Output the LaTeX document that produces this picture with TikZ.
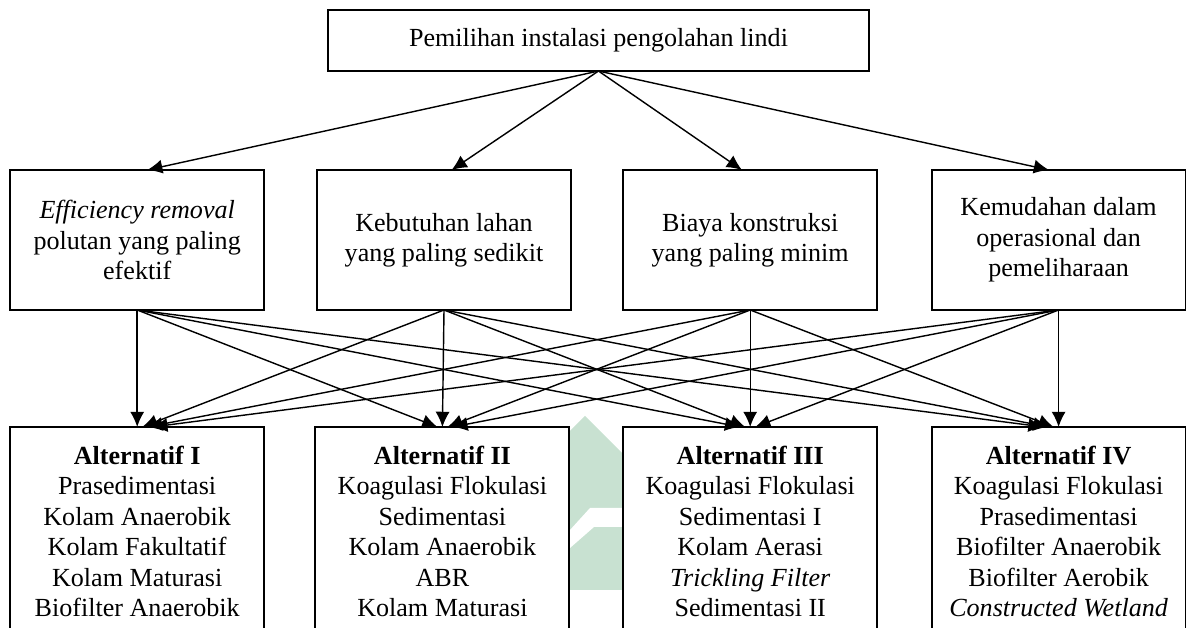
\documentclass[tikz,border=0pt]{standalone}
\usepackage{fontspec}
\setmainfont{Liberation Serif}
\usepackage{xcolor}
\usepackage{tikz}
\usetikzlibrary{positioning, arrows.meta}
\definecolor{wmgreen}{RGB}{200,225,209}

\begin{document}
\begin{tikzpicture}[>={Latex[length=7pt,width=6.5pt]}, x=0.46pt, y=0.46pt,
    box/.style={draw, line width=0.9pt, fill=white, align=center, outer sep=0pt,
        font=\fontsize{12}{14}\selectfont},
    goal/.style={box, minimum width=248.9pt, minimum height=28.1pt},
    crit/.style={box, minimum width=116.8pt, minimum height=64.4pt, inner sep=2pt},
    alt/.style={box, minimum width=116.8pt, anchor=north, inner xsep=2pt, inner ysep=8.7pt, text depth=30pt},
    link/.style={->, line width=0.65pt}]
    \useasboundingbox (0,0) rectangle (1186,628);
    \clip (0,0) rectangle (1186,628);
    % Watermark
    \fill[wmgreen] (540,167) -- (585,212) -- (640,157) -- (640,38) -- (540,38) -- cycle;
    \fill[white] (570,98) -- (590,120) -- (640,120) -- (640,101) -- (594,101) -- (570,80) -- cycle;
    % Goal
    \node[goal] (goal) at (598.5,587.5) {Pemilihan instalasi pengolahan lindi};
    % Criteria
    \node[crit] (c1) at (137.2,388) {\textit{Efficiency removal}\\polutan yang paling\\efektif};
    \node[crit] (c2) at (444,388) {Kebutuhan lahan\\yang paling sedikit};
    \node[crit] (c3) at (750.2,388) {Biaya konstruksi\\yang paling minim};
    \node[crit] (c4) at (1058.6,388) {Kemudahan dalam\\operasional dan\\pemeliharaan};
    % Alternatives
    \node[alt] (a1) at (137.2,201) {\textbf{Alternatif I}\\Prasedimentasi\\Kolam Anaerobik\\Kolam Fakultatif\\Kolam Maturasi\\Biofilter Anaerobik};
    \node[alt] (a2) at (442.4,201) {\textbf{Alternatif II}\\Koagulasi Flokulasi\\Sedimentasi\\Kolam Anaerobik\\ABR\\Kolam Maturasi};
    \node[alt] (a3) at (750.2,201) {\textbf{Alternatif III}\\Koagulasi Flokulasi\\Sedimentasi I\\Kolam Aerasi\\\textit{Trickling Filter}\\Sedimentasi II};
    \node[alt] (a4) at (1058.6,201) {\textbf{Alternatif IV}\\Koagulasi Flokulasi\\Prasedimentasi\\Biofilter Anaerobik\\Biofilter Aerobik\\\textit{Constructed Wetland}};
    % Goal to criteria
    \draw[link] (goal.south) -- ([xshift=4.6pt]c1.north);
    \draw[link] (goal.south) -- ([xshift=3.5pt]c2.north);
    \draw[link] (goal.south) -- ([xshift=-3.8pt]c3.north);
    \draw[link] (goal.south) -- ([xshift=-4.4pt]c4.north);
    % Criteria to alternatives
    \foreach \i in {1,...,4}
        \foreach \j in {1,...,4}
            \draw[link] (c\i.south) -- ([xshift={(\i-\j)*2.3pt}]a\j.north);
\end{tikzpicture}
\end{document}
